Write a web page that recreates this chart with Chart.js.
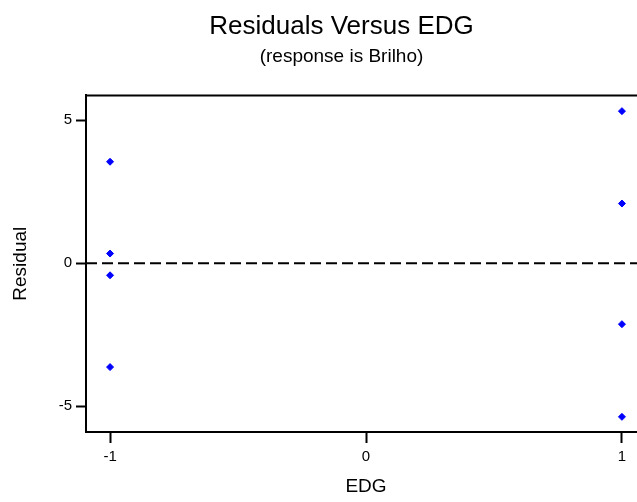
<!DOCTYPE html>
<html>
<head>
<meta charset="utf-8">
<script src="https://cdn.jsdelivr.net/npm/chart.js@4"></script>
<style>
  html, body { margin: 0; padding: 0; background: #fff; overflow: hidden; width: 637px; height: 502px; }
  #clip { width: 637px; height: 502px; overflow: hidden; position: relative; }
  #wrap { width: 683px; height: 502px; position: absolute; left: 0; top: 0; }
</style>
</head>
<body>
<div id="clip"><div id="wrap"><canvas id="chart" width="683" height="502"></canvas></div></div>
<script>
// data
const edgLevels = [-1, -1, -1, -1, 1, 1, 1, 1];
const residuals = [3.55, 0.34, -0.42, -3.63, 5.32, 2.09, -2.13, -5.37];
const xTickValues = [-1, 0, 1];
const yTickValues = [-5, 0, 5];

const points = edgLevels.map((x, i) => ({ x: x, y: residuals[i] }));
const font = "'Liberation Sans', Arial, sans-serif";

// top edge of the frame + dashed zero line (left/bottom come from the axis borders)
const framePlugin = {
  id: 'frame',
  afterDatasetsDraw(chart) {
    const { ctx, chartArea: a, scales } = chart;
    ctx.save();
    const y0 = scales.y.getPixelForValue(0);
    ctx.strokeStyle = '#000';
    ctx.lineWidth = 2;
    ctx.setLineDash([11, 5]);
    ctx.beginPath();
    ctx.moveTo(a.left, y0);
    ctx.lineTo(a.right, y0);
    ctx.stroke();
    ctx.setLineDash([]);
    ctx.beginPath();
    ctx.moveTo(a.left - 1, a.top);
    ctx.lineTo(a.right, a.top);
    ctx.stroke();
    ctx.restore();
  }
};

new Chart(document.getElementById('chart'), {
  type: 'scatter',
  data: {
    datasets: [{
      data: points,
      pointStyle: 'rectRot',
      pointRadius: 3.5,
      pointBorderWidth: 1,
      backgroundColor: '#0000ff',
      borderColor: '#0000ff'
    }]
  },
  options: {
    responsive: false,
    animation: false,
    events: [],
    layout: { padding: 0 },
    plugins: {
      legend: { display: false },
      tooltip: { enabled: false },
      title: {
        display: true,
        text: 'Residuals Versus EDG',
        color: '#000',
        font: { family: font, size: 26, weight: 'normal', lineHeight: 1.2 },
        padding: { top: 11, bottom: 0 }
      },
      subtitle: {
        display: true,
        text: '(response is Brilho)',
        color: '#000',
        font: { family: font, size: 19, weight: 'normal', lineHeight: 1.2 },
        padding: { top: 3, bottom: 27.4 }
      }
    },
    scales: {
      x: {
        type: 'linear',
        min: -1.094,
        max: 1.094,
        afterBuildTicks: s => { s.ticks = xTickValues.map(v => ({ value: v })); },
        afterFit: s => { s.height = 70; },
        ticks: { color: '#000', padding: 5, font: { family: font, size: 15 } },
        grid: { drawOnChartArea: false, drawTicks: true, tickLength: 11, tickWidth: 2, tickColor: '#000' },
        border: { display: true, color: '#000', width: 2 },
        title: {
          display: true,
          text: 'EDG',
          color: '#000',
          font: { family: font, size: 19 },
          padding: { top: 0, bottom: 4 }
        }
      },
      y: {
        type: 'linear',
        min: -5.9,
        max: 5.87,
        afterBuildTicks: s => { s.ticks = yTickValues.map(v => ({ value: v })); },
        afterFit: s => { s.width = 86; },
        ticks: { color: '#000', padding: 4, font: { family: font, size: 15 } },
        grid: { drawOnChartArea: false, drawTicks: true, tickLength: 10, tickWidth: 2, tickColor: '#000' },
        border: { display: true, color: '#000', width: 2 },
        title: {
          display: true,
          text: 'Residual',
          color: '#000',
          font: { family: font, size: 19 },
          padding: { top: 9.6, bottom: 0 }
        }
      },
      // empty right-hand margin so the titles centre on the full graph width
      margin: {
        type: 'linear',
        position: 'right',
        display: true,
        afterFit: s => { s.width = 37; },
        ticks: { display: false },
        grid: { display: false },
        border: { display: false }
      }
    }
  },
  plugins: [framePlugin]
});
</script>
</body>
</html>
